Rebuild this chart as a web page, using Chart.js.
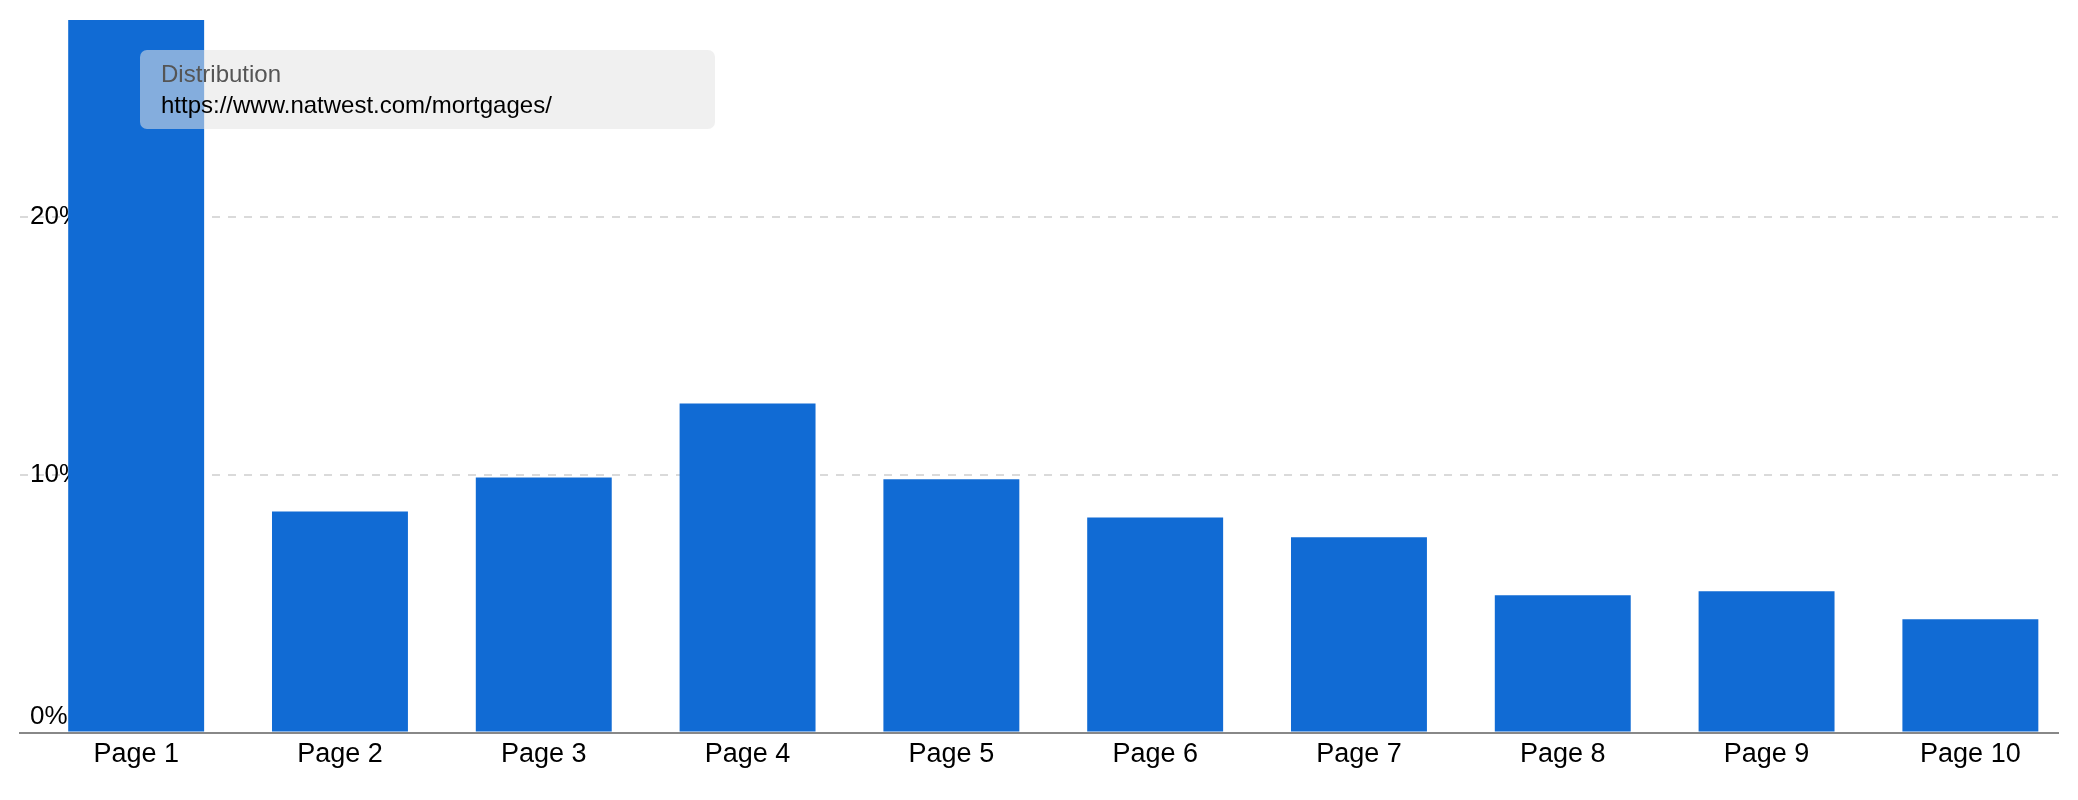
<!DOCTYPE html>
<html>
<head>
<meta charset="utf-8">
<script src="https://cdn.jsdelivr.net/npm/chart.js@4.4.1/dist/chart.umd.min.js"></script>
<style>
  html, body { margin: 0; padding: 0; background: #ffffff; }
  #wrap { position: relative; width: 2078px; height: 800px; }
  #tip {
    position: absolute; left: 140px; top: 50px; width: 554px; height: 71px;
    padding: 8px 0 0 21px; border-radius: 7px;
    background: rgba(227, 227, 227, 0.55);
    font-family: "Liberation Sans", Arial, sans-serif; font-size: 24px; line-height: 31px;
  }
  #tip .t { color: #555555; }
  #tip .b { color: #000000; }
</style>
</head>
<body>
<div id="wrap">
  <canvas id="c" width="2078" height="800"></canvas>
  <div id="tip"><div class="t">Distribution</div><div class="b">https://www.natwest.com/mortgages/</div></div>
</div>
<script>
const categories = ["Page 1", "Page 2", "Page 3", "Page 4", "Page 5", "Page 6", "Page 7", "Page 8", "Page 9", "Page 10"];
const distribution = [28, 8.58, 9.90, 12.77, 9.83, 8.35, 7.58, 5.33, 5.48, 4.40];
const yTicks = [0, 10, 20];

const FONT = "'Liberation Sans', Arial, sans-serif";

new Chart(document.getElementById('c'), {
  type: 'bar',
  data: {
    datasets: [{
      label: 'Distribution',
      data: distribution.map((v, i) => ({ x: i, y: v })),
      backgroundColor: '#116bd4',
      borderWidth: 0,
      categoryPercentage: 1,
      barPercentage: 0.667
    }]
  },
  options: {
    responsive: false,
    devicePixelRatio: 1,
    animation: false,
    events: [],
    layout: { padding: { left: 20, right: 20, top: 20, bottom: 23 } },
    plugins: { legend: { display: false }, tooltip: { enabled: false } },
    scales: {
      x: {
        type: 'linear',
        offset: false,
        min: -0.57,
        max: 9.43,
        afterBuildTicks: (s) => { s.ticks = categories.map((c, i) => ({ value: i })); },
        afterFit: (s) => { s.paddingLeft = 0; s.paddingRight = 0; },
        grid: { display: false, drawTicks: false, offset: false },
        border: { display: true, color: '#888888', width: 2 },
        ticks: {
          autoSkip: false, maxRotation: 0, padding: 6,
          color: '#000000', font: { family: FONT, size: 27 },
          callback: (v) => categories[v]
        }
      },
      y: {
        min: 0,
        max: 27.65,
        afterBuildTicks: (s) => { s.ticks = yTicks.map(v => ({ value: v })); },
        afterFit: (s) => { s.width = 0; s.paddingTop = 0; s.paddingBottom = 0; },
        grid: {
          drawTicks: false, lineWidth: 2,
          color: (ctx) => (ctx.tick && ctx.tick.value === 0) ? 'rgba(0,0,0,0)' : '#dadada'
        },
        border: { display: false, dash: [8, 8] },
        ticks: {
          mirror: true, padding: 10,
          color: '#000000', font: { family: FONT, size: 26 },
          callback: (v) => v === 0 ? [v + '%', ''] : v + '%'
        }
      }
    }
  }
});
</script>
</body>
</html>
